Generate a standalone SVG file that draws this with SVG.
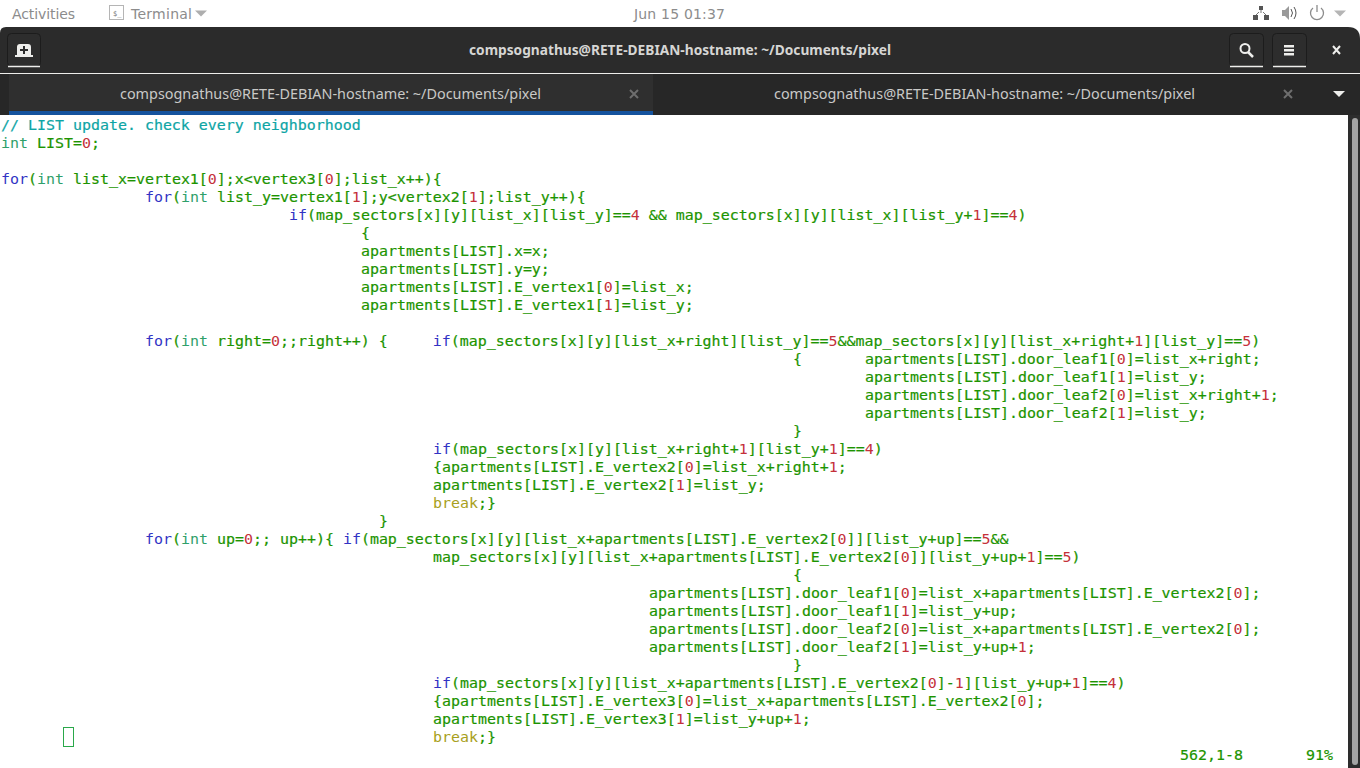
<svg xmlns="http://www.w3.org/2000/svg" width="1360" height="768" viewBox="0 0 1360 768">
<style>
.ui{font-family:"Noto Sans","Open Sans","Liberation Sans",sans-serif;font-size:14.5px;fill:#d6d6d4}
.shell{font-family:"DejaVu Sans","Liberation Sans",sans-serif;font-size:14px;fill:#8c8c8c}
.code text{font-family:"DejaVu Sans Mono","Liberation Mono",monospace;font-size:14.95px;fill:#1c9400;white-space:pre;stroke:#1c9400;stroke-width:.2}
.code tspan{stroke:none}
.k{fill:#3232c4}.t{fill:#2f9f6a}.n{fill:#c4303a}.y{fill:#a8a020}
.btn{fill:#2d2d2d;stroke:#1c1c1c}
.ul{stroke:#eeeeec;stroke-width:1.5;fill:none}
.ic{fill:#eeeeec}
.st{fill:#8c8c8c}
</style>
<rect width="1360" height="768" fill="#ffffff"/>
<g id="topbar">
<text class="shell" x="12" y="18.500" textLength="63">Activities</text>
<rect x="109.500" y="5.500" width="14" height="14" fill="none" stroke="#b5b5b5"/>
<text x="113" y="16" style="font:7px 'DejaVu Sans Mono',monospace;fill:#777">$_</text>
<text class="shell" x="131" y="18.500" textLength="61">Terminal</text>
<path class="st" d="M195 10.500h12l-6 6z" fill-opacity=".7"/>
<text class="shell" x="634" y="18.500" textLength="91">Jun 15  01:37</text>
<path class="st" d="M1259 6h4v4h-4zM1253 15h5v5h-5zM1264 15h5v5h-5z" style="fill:#555"/>
<path d="M1261 10v3M1256 15l3-3M1266 15l-3-3" stroke="#777" fill="none"/>
<path d="M1282 10h3l4-4v14l-4-4h-3z" fill="#9a9a9a"/>
<path d="M1291 9q3 4 0 8M1294 7q4 6 0 12" stroke="#555" fill="none"/>
<path d="M1313 8a6.500 6.500 0 1 0 8 0M1317 5v7" stroke="#8c8c8c" stroke-width="1.300" fill="none"/>
<path d="M1334 10.500h12l-6 6z" fill="#b5b5b5"/>
</g>
<g id="window">
<path d="M0 768V33q0-6 6-6H1348q12 0 12 12V768z" fill="#2b2b2b"/>
<rect y="73" width="1360" height="1" fill="#eeeeec"/>
<rect y="74" width="1360" height="41" fill="#272727"/>
<rect x="9" y="74" width="644" height="37" fill="#2f2f2f"/>
<rect x="9" y="111" width="644" height="4" fill="#15539e"/>
<rect y="115" width="1348" height="653" fill="#ffffff"/>
<rect x="1348" y="115" width="12" height="653" fill="#2d2d2d"/>
<rect x="1352" y="118" width="6" height="647" rx="3" fill="#a4a4a4"/>
</g>
<g id="new-tab">
<rect class="btn" x="7.500" y="33.500" width="33" height="33" rx="4"/>
<path class="ul" d="M8 66.500h32"/>
<path class="ic" d="M17 57V47q0-3 3-3h8q3 0 3 3v10zM15 55h18v2H15z"/>
<path d="M24 46v8M20 50h8" stroke="#2d2d2d" stroke-width="2"/>
</g>
<text id="title" class="ui" x="469" y="55" style="font-weight:700" textLength="422" lengthAdjust="spacingAndGlyphs">compsognathus@RETE-DEBIAN-hostname: ~/Documents/pixel</text>
<g id="search">
<rect class="btn" x="1229.500" y="33.500" width="34" height="33" rx="4"/>
<path class="ul" d="M1230 66.500h33"/>
<circle cx="1245" cy="48.500" r="4.500" fill="none" stroke="#eeeeec" stroke-width="2"/>
<path d="M1248 52l5 5" stroke="#eeeeec" stroke-width="2.500"/>
</g>
<g id="menu">
<rect class="btn" x="1272.500" y="33.500" width="34" height="33" rx="4"/>
<path class="ul" d="M1273 66.500h33"/>
<path class="ic" d="M1284 45h10v2.500h-10zM1284 49h10v2.500h-10zM1284 53h10v2.500h-10z"/>
</g>
<path id="close" d="M1333 46l7 8M1340 46l-7 8" stroke="#eeeeec" stroke-width="2"/>
<g id="tabs">
<text class="ui" x="120" y="99" style="fill:#c9c9c7" textLength="421" lengthAdjust="spacingAndGlyphs">compsognathus@RETE-DEBIAN-hostname: ~/Documents/pixel</text>
<path d="M630 90l8 8M638 90l-8 8" stroke="#6e6e6e" stroke-width="2"/>
<text class="ui" x="774" y="99" style="fill:#c9c9c7" textLength="421" lengthAdjust="spacingAndGlyphs">compsognathus@RETE-DEBIAN-hostname: ~/Documents/pixel</text>
<path d="M1284 90l8 8M1292 90l-8 8" stroke="#6e6e6e" stroke-width="2"/>
<path d="M1333 91h12l-6 6z" fill="#eeeeec"/>
</g>
<g class="code" id="code">
<text x="1" y="130" style="fill:#0ea5a5;stroke:#0ea5a5">// LIST update. check every neighborhood</text>
<text x="1" y="148"><tspan class="t">int</tspan> LIST=<tspan class="n">0</tspan>;</text>
<text x="1" y="184"><tspan class="k">for</tspan>(<tspan class="t">int</tspan> list_x=vertex1[<tspan class="n">0</tspan>];x&lt;vertex3[<tspan class="n">0</tspan>];list_x++){</text>
<text x="145" y="202"><tspan class="k">for</tspan>(<tspan class="t">int</tspan> list_y=vertex1[<tspan class="n">1</tspan>];y&lt;vertex2[<tspan class="n">1</tspan>];list_y++){</text>
<text x="289" y="220"><tspan class="k">if</tspan>(map_sectors[x][y][list_x][list_y]==<tspan class="n">4</tspan> &amp;&amp; map_sectors[x][y][list_x][list_y+<tspan class="n">1</tspan>]==<tspan class="n">4</tspan>)</text>
<text x="361" y="238">{</text>
<text x="361" y="256">apartments[LIST].x=x;</text>
<text x="361" y="274">apartments[LIST].y=y;</text>
<text x="361" y="292">apartments[LIST].E_vertex1[<tspan class="n">0</tspan>]=list_x;</text>
<text x="361" y="310">apartments[LIST].E_vertex1[<tspan class="n">1</tspan>]=list_y;</text>
<text x="145" y="346"><tspan class="k">for</tspan>(<tspan class="t">int</tspan> right=<tspan class="n">0</tspan>;;right++) {     <tspan class="k">if</tspan>(map_sectors[x][y][list_x+right][list_y]==<tspan class="n">5</tspan>&amp;&amp;map_sectors[x][y][list_x+right+<tspan class="n">1</tspan>][list_y]==<tspan class="n">5</tspan>)</text>
<text x="793" y="364">{       apartments[LIST].door_leaf1[<tspan class="n">0</tspan>]=list_x+right;</text>
<text x="865" y="382">apartments[LIST].door_leaf1[<tspan class="n">1</tspan>]=list_y;</text>
<text x="865" y="400">apartments[LIST].door_leaf2[<tspan class="n">0</tspan>]=list_x+right+<tspan class="n">1</tspan>;</text>
<text x="865" y="418">apartments[LIST].door_leaf2[<tspan class="n">1</tspan>]=list_y;</text>
<text x="793" y="436">}</text>
<text x="433" y="454"><tspan class="k">if</tspan>(map_sectors[x][y][list_x+right+<tspan class="n">1</tspan>][list_y+<tspan class="n">1</tspan>]==<tspan class="n">4</tspan>)</text>
<text x="433" y="472">{apartments[LIST].E_vertex2[<tspan class="n">0</tspan>]=list_x+right+<tspan class="n">1</tspan>;</text>
<text x="433" y="490">apartments[LIST].E_vertex2[<tspan class="n">1</tspan>]=list_y;</text>
<text x="433" y="508"><tspan class="y">break</tspan>;}</text>
<text x="379" y="526">}</text>
<text x="145" y="544"><tspan class="k">for</tspan>(<tspan class="t">int</tspan> up=<tspan class="n">0</tspan>;; up++){ <tspan class="k">if</tspan>(map_sectors[x][y][list_x+apartments[LIST].E_vertex2[<tspan class="n">0</tspan>]][list_y+up]==<tspan class="n">5</tspan>&amp;&amp;</text>
<text x="433" y="562">map_sectors[x][y][list_x+apartments[LIST].E_vertex2[<tspan class="n">0</tspan>]][list_y+up+<tspan class="n">1</tspan>]==<tspan class="n">5</tspan>)</text>
<text x="793" y="580">{</text>
<text x="649" y="598">apartments[LIST].door_leaf1[<tspan class="n">0</tspan>]=list_x+apartments[LIST].E_vertex2[<tspan class="n">0</tspan>];</text>
<text x="649" y="616">apartments[LIST].door_leaf1[<tspan class="n">1</tspan>]=list_y+up;</text>
<text x="649" y="634">apartments[LIST].door_leaf2[<tspan class="n">0</tspan>]=list_x+apartments[LIST].E_vertex2[<tspan class="n">0</tspan>];</text>
<text x="649" y="652">apartments[LIST].door_leaf2[<tspan class="n">1</tspan>]=list_y+up+<tspan class="n">1</tspan>;</text>
<text x="793" y="670">}</text>
<text x="433" y="688"><tspan class="k">if</tspan>(map_sectors[x][y][list_x+apartments[LIST].E_vertex2[<tspan class="n">0</tspan>]-<tspan class="n">1</tspan>][list_y+up+<tspan class="n">1</tspan>]==<tspan class="n">4</tspan>)</text>
<text x="433" y="706">{apartments[LIST].E_vertex3[<tspan class="n">0</tspan>]=list_x+apartments[LIST].E_vertex2[<tspan class="n">0</tspan>];</text>
<text x="433" y="724">apartments[LIST].E_vertex3[<tspan class="n">1</tspan>]=list_y+up+<tspan class="n">1</tspan>;</text>
<text x="433" y="742"><tspan class="y">break</tspan>;}</text>
<text x="1180" y="760">562,1-8</text>
<text x="1306" y="760">91%</text>
</g>
<rect id="cursor" x="63.500" y="727.500" width="10" height="19" fill="none" stroke="#2aa84a"/>
</svg>
